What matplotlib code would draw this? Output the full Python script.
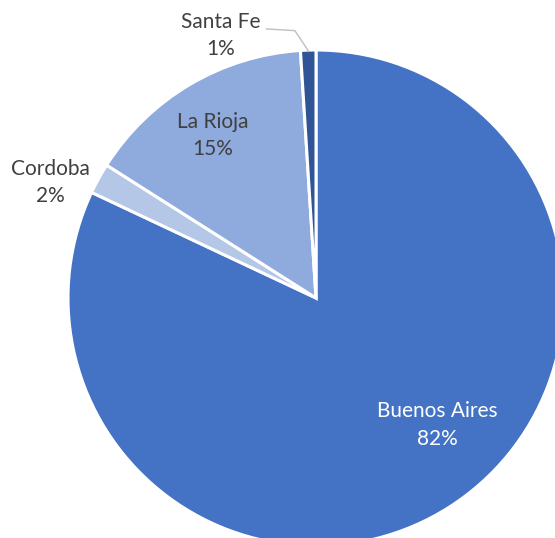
import matplotlib.pyplot as plt

# datos
provincias = ['Buenos Aires', 'Cordoba', 'La Rioja', 'Santa Fe']
valores = [82, 2, 15, 1]
colores = ['#4472C4', '#B4C7E7', '#8FAADC', '#2F5597']

# posicion de etiquetas (coordenadas del eje, radio 1)
pos_etiq = [(0.49, -0.512), (-1.07, 0.465), (-0.415, 0.655), (-0.385, 1.06)]
color_etiq = ['white', '#404040', '#404040', '#404040']

plt.rcParams['font.family'] = ['Lato', 'DejaVu Sans']

fig = plt.figure(figsize=(5.55, 5.38), dpi=100)
ax = fig.add_axes([0, 0, 1, 1])

ax.pie(valores, colors=colores, startangle=90, counterclock=False,
       wedgeprops=dict(edgecolor='white', linewidth=2.2))

for nombre, v, (x, y), c in zip(provincias, valores, pos_etiq, color_etiq):
    ax.text(x, y, f'{nombre}\n{v}%', ha='center', va='center', color=c,
            fontsize=15, linespacing=1.45)

# linea guia Santa Fe
ax.plot([-0.2, -0.085, -0.03], [1.085, 1.078, 0.995], color='#BFBFBF', lw=1)

ax.set_xlim(-316 / 248, (555 - 316) / 248)
ax.set_ylim(-240 / 248, 298 / 248)
ax.set_aspect('auto')
ax.axis('off')

fig.savefig('out.png', dpi=100)
